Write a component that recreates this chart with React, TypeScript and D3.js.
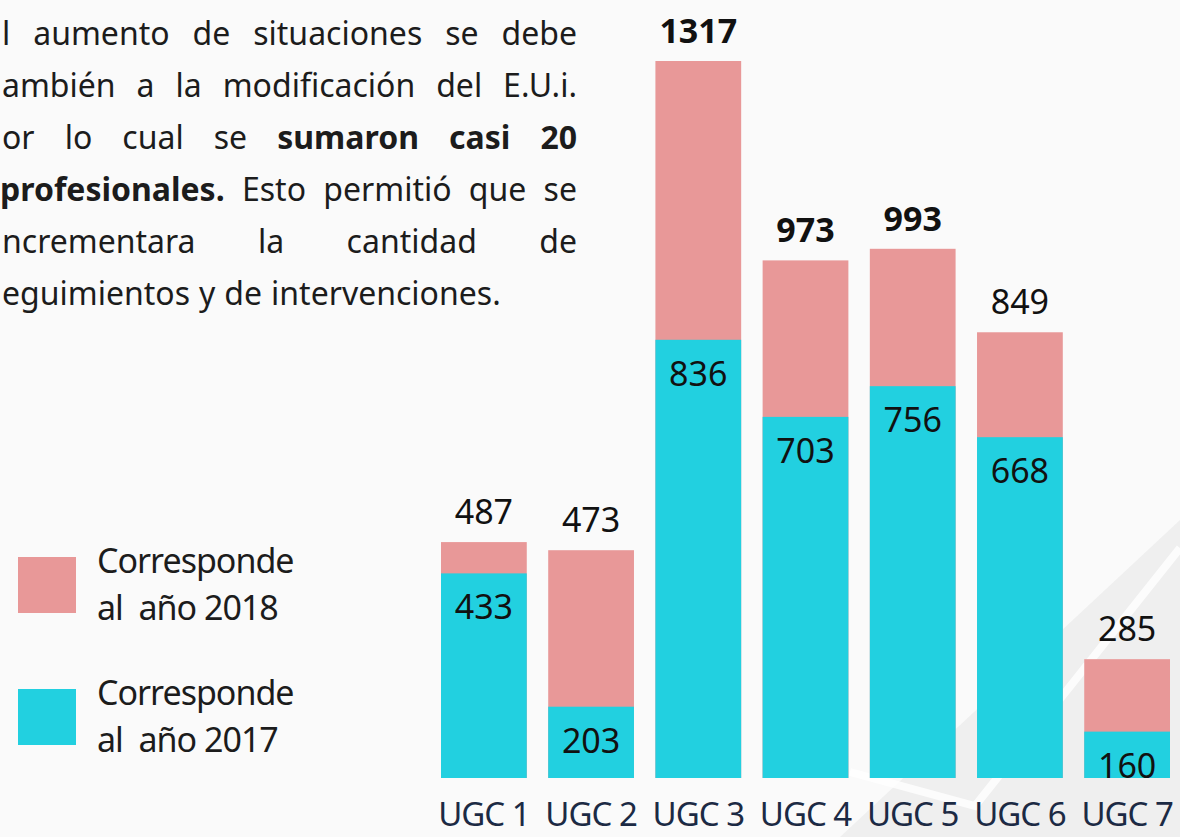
import React, { useEffect, useRef } from "react";
import * as d3 from "d3";

const categories = ["UGC 1", "UGC 2", "UGC 3", "UGC 4", "UGC 5", "UGC 6", "UGC 7"];
const values2017 = [433, 203, 836, 703, 756, 668, 160];
const values2018 = [487, 473, 1317, 973, 993, 849, 285];
const highlighted = ["UGC 3", "UGC 4", "UGC 5"];
const legendLabels = [
  ["Corresponde", "al  año 2018"],
  ["Corresponde", "al  año 2017"],
];
// paragraph lines (visible portion), each word: [text, bold]
const paragraph: [string, boolean][][] = [
  [["l", false], ["aumento", false], ["de", false], ["situaciones", false], ["se", false], ["debe", false]],
  [["ambién", false], ["a", false], ["la", false], ["modificación", false], ["del", false], ["E.U.i.", false]],
  [["or", false], ["lo", false], ["cual", false], ["se", false], ["sumaron", true], ["casi", true], ["20", true]],
  [["profesionales.", true], ["Esto", false], ["permitió", false], ["que", false], ["se", false]],
  [["ncrementara", false], ["la", false], ["cantidad", false], ["de", false]],
  [["eguimientos", false], ["y", false], ["de", false], ["intervenciones.", false]],
];

const W = 1180;
const H = 837;
const PINK = "#E89898";
const CYAN = "#22D0E0";
const TEXT = "#1c1c1c";
const FONT = "'Noto Sans', 'Open Sans', sans-serif";

export default function App() {
  const ref = useRef<SVGSVGElement | null>(null);

  useEffect(() => {
    document.body.style.margin = "0";
    const svg = d3.select(ref.current);
    svg.selectAll("*").remove();

    // background
    svg.append("rect").attr("width", W).attr("height", H).attr("fill", "#fafafa");
    svg
      .append("path")
      .attr("d", "M840,837 L1180,520 L1180,837 Z")
      .attr("fill", "#efefef");
    svg
      .append("path")
      .attr("d", "M850,772 L975,806 L1180,548")
      .attr("fill", "none")
      .attr("stroke", "#ffffff")
      .attr("stroke-width", 8)
      .attr("opacity", 0.8);

    // scales
    const x = d3.scaleBand<string>().domain(categories).range([441, 1170]).paddingInner(0.2).paddingOuter(0);
    const y = d3.scaleLinear().domain([80, 1317]).range([778, 61]);

    const data = categories.map((c, i) => ({ c, v17: values2017[i], v18: values2018[i] }));

    const g = svg.append("g");
    g.selectAll("rect.b18")
      .data(data)
      .join("rect")
      .attr("class", "b18")
      .attr("x", (d) => x(d.c)!)
      .attr("width", x.bandwidth())
      .attr("y", (d) => y(d.v18))
      .attr("height", (d) => y(80) - y(d.v18))
      .attr("fill", PINK);
    g.selectAll("rect.b17")
      .data(data)
      .join("rect")
      .attr("class", "b17")
      .attr("x", (d) => x(d.c)!)
      .attr("width", x.bandwidth())
      .attr("y", (d) => y(d.v17))
      .attr("height", (d) => y(80) - y(d.v17))
      .attr("fill", CYAN);

    g.selectAll("text.t18")
      .data(data)
      .join("text")
      .attr("class", "t18")
      .attr("x", (d) => x(d.c)! + x.bandwidth() / 2)
      .attr("y", (d) => y(d.v18) - 18)
      .attr("text-anchor", "middle")
      .attr("font-family", FONT)
      .attr("font-size", 34)
      .attr("font-weight", (d) => (highlighted.includes(d.c) ? 700 : 400))
      .attr("fill", "#111")
      .text((d) => d.v18);
    g.selectAll("text.t17")
      .data(data)
      .join("text")
      .attr("class", "t17")
      .attr("x", (d) => x(d.c)! + x.bandwidth() / 2)
      .attr("y", (d) => y(d.v17) + 46)
      .attr("text-anchor", "middle")
      .attr("font-family", FONT)
      .attr("font-size", 34)
      .attr("fill", "#111")
      .text((d) => d.v17);

    // x axis labels
    const xAxis = d3.axisBottom(x).tickSize(0).tickPadding(0);
    const ax = svg.append("g").attr("transform", "translate(0,800)").call(xAxis);
    ax.select(".domain").remove();
    ax.selectAll("text")
      .attr("font-family", FONT)
      .attr("font-size", 33)
      .attr("letter-spacing", -1)
      .attr("fill", "#1c2a44")
      .attr("dy", 0)
      .attr("y", 26);

    // legend
    const legendColors = [PINK, CYAN];
    const lg = svg.append("g");
    legendLabels.forEach((lines, i) => {
      const top = 557 + i * 132;
      lg.append("rect").attr("x", 18).attr("y", top).attr("width", 58).attr("height", 56).attr("fill", legendColors[i]);
      lines.forEach((t, j) => {
        lg.append("text")
          .attr("x", 97)
          .attr("y", top + 16 + j * 47)
          .attr("font-family", FONT)
          .attr("font-size", 34)
          .attr("letter-spacing", -1)
          .attr("fill", TEXT)
          .attr("xml:space", "preserve")
          .style("white-space", "pre")
          .text(t);
      });
    });

    // paragraph (justified)
    const pg = svg.append("g");
    const left = 2;
    const right = 577;
    paragraph.forEach((words, li) => {
      const by = 45 + li * 52;
      const startX = li === 3 ? 0 : left;
      const nodes = words.map(([w, b]) =>
        pg
          .append("text")
          .attr("y", by)
          .attr("font-family", FONT)
          .attr("font-size", 32)
          .attr("font-weight", b ? 700 : 400)
          .attr("fill", TEXT)
          .text(w)
      );
      const widths = nodes.map((n) => (n.node() as SVGTextElement).getComputedTextLength());
      const total = widths.reduce((a, b) => a + b, 0);
      const justify = li < paragraph.length - 1;
      const gap = justify ? (right - startX - total) / (words.length - 1) : 9;
      let cx = startX;
      nodes.forEach((n, k) => {
        n.attr("x", cx);
        cx += widths[k] + gap;
      });
    });
  }, []);

  return (
    <svg
      ref={ref}
      width={W}
      height={H}
      style={{ position: "absolute", left: 0, top: 0, display: "block" }}
    />
  );
}
